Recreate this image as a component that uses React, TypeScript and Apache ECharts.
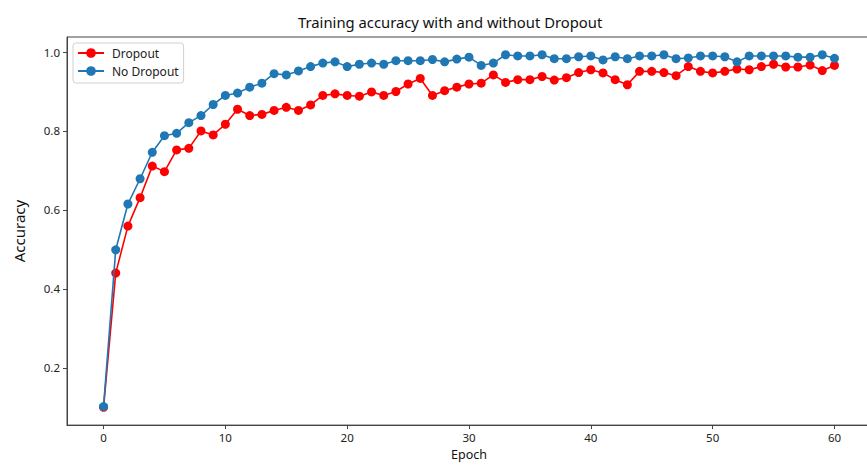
import React, { useEffect, useRef } from "react";
import * as echarts from "echarts";

const epochs: number[] = Array.from({ length: 61 }, (_, i) => i);

const dropout: number[] = [
  0.10, 0.44, 0.559, 0.631, 0.711, 0.697, 0.752, 0.756, 0.800, 0.790,
  0.817, 0.855, 0.839, 0.842, 0.852, 0.860, 0.852, 0.866, 0.890, 0.894,
  0.890, 0.888, 0.899, 0.890, 0.900, 0.919, 0.933, 0.890, 0.902, 0.911,
  0.919, 0.921, 0.942, 0.923, 0.930, 0.930, 0.938, 0.929, 0.935, 0.948,
  0.955, 0.947, 0.930, 0.917, 0.951, 0.951, 0.948, 0.940, 0.963, 0.951,
  0.947, 0.951, 0.957, 0.955, 0.963, 0.969, 0.962, 0.962, 0.967, 0.953, 0.966,
];

const noDropout: number[] = [
  0.102, 0.499, 0.615, 0.679, 0.746, 0.788, 0.794, 0.821, 0.839, 0.867,
  0.890, 0.896, 0.911, 0.921, 0.945, 0.942, 0.952, 0.963, 0.972, 0.975,
  0.963, 0.969, 0.972, 0.969, 0.978, 0.978, 0.978, 0.981, 0.975, 0.982,
  0.987, 0.966, 0.972, 0.993, 0.990, 0.990, 0.993, 0.983, 0.983, 0.988,
  0.990, 0.980, 0.988, 0.983, 0.990, 0.990, 0.993, 0.983, 0.985, 0.990,
  0.990, 0.988, 0.975, 0.990, 0.990, 0.990, 0.990, 0.987, 0.987, 0.993, 0.984,
];

const xTicks: number[] = [0, 10, 20, 30, 40, 50, 60];
const yTicks: number[] = [0.2, 0.4, 0.6, 0.8, 1.0];

const FONT = "'Noto Sans', 'DejaVu Sans', sans-serif";

export default function App() {
  const ref = useRef<HTMLDivElement>(null);

  useEffect(() => {
    if (!ref.current) return;
    const chart = echarts.init(ref.current, undefined, { renderer: "svg" });
    const axisColor = "#444";
    chart.setOption({
      animation: false,
      backgroundColor: "#ffffff",
      title: {
        text: "Training accuracy with and without Dropout",
        left: 293,
        top: 9,
        textStyle: { fontFamily: FONT, fontSize: 14.8, fontWeight: "normal", color: "#111" },
      },
      legend: {
        orient: "vertical",
        left: 73,
        top: 43,
        itemWidth: 26,
        itemHeight: 12,
        itemGap: 6,
        padding: [4, 5, 6, 4],
        borderColor: "#d0d0d0",
        borderWidth: 1,
        borderRadius: 3,
        backgroundColor: "rgba(255,255,255,0.8)",
        textStyle: { fontFamily: FONT, fontSize: 12, color: "#222", padding: [0, 0, 0, 3] },
        data: ["Dropout", "No Dropout"],
      },
      grid: {
        left: 67,
        top: 37,
        width: 804,
        height: 392,
        show: true,
        borderColor: axisColor,
        borderWidth: 1,
        containLabel: false,
      },
      xAxis: {
        type: "value",
        min: -3,
        max: 63,
        name: "Epoch",
        nameLocation: "middle",
        nameGap: 22,
        nameTextStyle: { fontFamily: FONT, fontSize: 12.5, color: "#111" },
        axisLine: { show: true, onZero: false, lineStyle: { color: axisColor, width: 1 } },
        axisTick: { show: true, length: 4, inside: false, lineStyle: { color: axisColor }, customValues: xTicks },
        axisLabel: { fontFamily: FONT, fontSize: 11.5, color: "#222", margin: 6, customValues: xTicks },
        splitLine: { show: false },
      },
      yAxis: {
        type: "value",
        min: 0.055,
        max: 1.038,
        name: "Accuracy",
        nameLocation: "middle",
        nameGap: 41,
        nameTextStyle: { fontFamily: FONT, fontSize: 15, color: "#111" },
        axisLine: { show: true, onZero: false, lineStyle: { color: axisColor, width: 1 } },
        axisTick: { show: true, length: 4, inside: false, lineStyle: { color: axisColor }, customValues: yTicks },
        axisLabel: {
          fontFamily: FONT,
          fontSize: 11.5,
          color: "#222",
          margin: 7,
          customValues: yTicks,
          formatter: (v: number) => v.toFixed(1),
        },
        splitLine: { show: false },
      },
      series: [
        {
          name: "Dropout",
          type: "line",
          data: epochs.map((e, i) => [e, dropout[i]]),
          symbol: "circle",
          symbolSize: 9,
          showAllSymbol: true,
          color: "#ff0000",
          lineStyle: { color: "#ff0000", width: 1.6 },
          itemStyle: { color: "#ff0000", borderWidth: 0 },
          z: 2,
        },
        {
          name: "No Dropout",
          type: "line",
          data: epochs.map((e, i) => [e, noDropout[i]]),
          symbol: "circle",
          symbolSize: 9,
          showAllSymbol: true,
          color: "#1f77b4",
          lineStyle: { color: "#1f77b4", width: 1.6 },
          itemStyle: { color: "#1f77b4", borderWidth: 0 },
          z: 3,
        },
      ],
    });
    return () => chart.dispose();
  }, []);

  return (
    <div
      ref={ref}
      style={{ position: "fixed", left: 0, top: 0, width: 880, height: 466, background: "#fff" }}
    />
  );
}
